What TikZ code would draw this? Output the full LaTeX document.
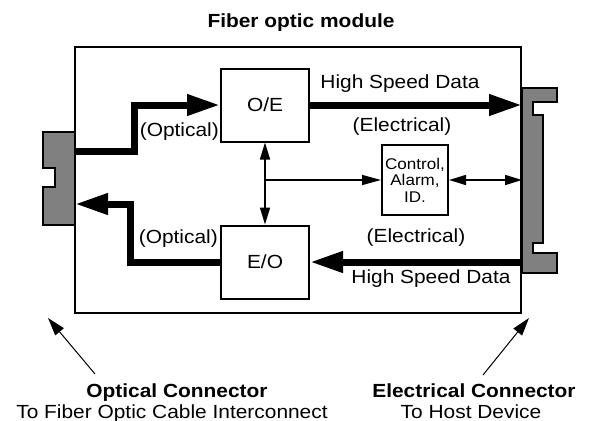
\documentclass[tikz,border=0pt]{standalone}
\usepackage{fontspec}
\setmainfont{Liberation Sans}[FakeStretch=1.1]
\usetikzlibrary{arrows.meta, positioning}

\newcommand{\lblfont}{\fontsize{19}{21}\selectfont}

\begin{document}
\begin{tikzpicture}[
    x=1pt, y=-1pt,
    box/.style={draw, line width=2pt, minimum width=88pt, minimum height=73pt, inner sep=0pt, font=\lblfont},
    ctrlbox/.style={draw, line width=2pt, minimum width=66pt, minimum height=70pt, inner sep=0pt, align=center, font=\fontsize{15.5}{16.5}\selectfont},
    plug/.style={draw, line width=1.5pt, fill=gray},
    lbl/.style={anchor=base, inner sep=0pt, font=\lblfont},
    fatarrow/.style={-{Triangle[length=33pt, width=20pt]}, line width=7pt},
    sig/.style={{Triangle[length=17pt, width=10pt]}-{Triangle[length=17pt, width=10pt]}, line width=1.5pt},
    sigto/.style={-{Triangle[length=19pt, width=10pt]}, line width=1.5pt},
    ptr/.style={-{Triangle[length=18pt, width=11pt]}, line width=1pt}
]
    \useasboundingbox (0,0) rectangle (590,421);

    % module frame
    \node[draw, line width=2pt, minimum width=446pt, minimum height=266pt] (module) at (298,180) {};

    % connectors
    \draw[plug] (43,132) -- (75,132) -- (75,225) -- (43,225) -- (43,187) -- (55,187) -- (55,168) -- (43,168) -- cycle;
    \draw[plug] (522,88) -- (557,88) -- (557,102) -- (533,102) -- (533,115) -- (543,115)
        -- (543,243) -- (533,243) -- (533,253) -- (557,253) -- (557,273) -- (522,273) -- cycle;
    \coordinate (optout) at (75,151);
    \coordinate (optin) at (75,204);
    \coordinate (rport) at (522,180);

    \node[box] (oe) at (265,105) {O/E};
    \node[box, below=82pt of oe] (eo) {E/O};
    \node[ctrlbox] (ctrl) at (415,180) {Control,\\Alarm,\\ID.};

    % data paths
    \draw[fatarrow] (optout) -- ++(59,0) |- (oe.west);
    \draw[fatarrow] (eo.west) -| (130,204) -- (optin);
    \draw[fatarrow] (oe.east) -- (oe.east -| rport);
    \draw[fatarrow] (eo.east -| rport) -- (eo.east);

    % control lines
    \coordinate (tap) at (oe.south |- ctrl.west);
    \draw[sig] (oe.south) -- (eo.north);
    \draw[sigto] (tap) -- (ctrl.west);
    \draw[sig] (ctrl.east) -- (ctrl.east -| rport);

    % labels
    \node[lbl, font=\lblfont\bfseries] (title) at (301,27) {Fiber optic module};
    \node[lbl, anchor=base east] (optA) at (219,136) {(Optical)};
    \node[lbl, anchor=base east] (optB) at (218,243) {(Optical)};
    \node[lbl] (hsdA) at (400,88) {High Speed Data};
    \node[lbl] (elecA) at (402,131) {(Electrical)};
    \node[lbl] (elecB) at (416,242) {(Electrical)};
    \node[lbl] (hsdB) at (431,283) {High Speed Data};

    \node[lbl, font=\lblfont\bfseries] (optcon) at (177,397) {Optical Connector};
    \node[lbl] (optsub) at (172,418) {To Fiber Optic Cable Interconnect};
    \node[lbl, font=\lblfont\bfseries] (eleccon) at (474,397) {Electrical Connector};
    \node[lbl] (elecsub) at (471,418) {To Host Device};

    % pointers
    \coordinate (lfoot) at (95,374);
    \coordinate (ltip) at (48,318);
    \coordinate (rfoot) at (483,375);
    \coordinate (rtip) at (529,318);
    \draw[ptr] (lfoot) -- (ltip);
    \draw[ptr] (rfoot) -- (rtip);
\end{tikzpicture}
\end{document}
